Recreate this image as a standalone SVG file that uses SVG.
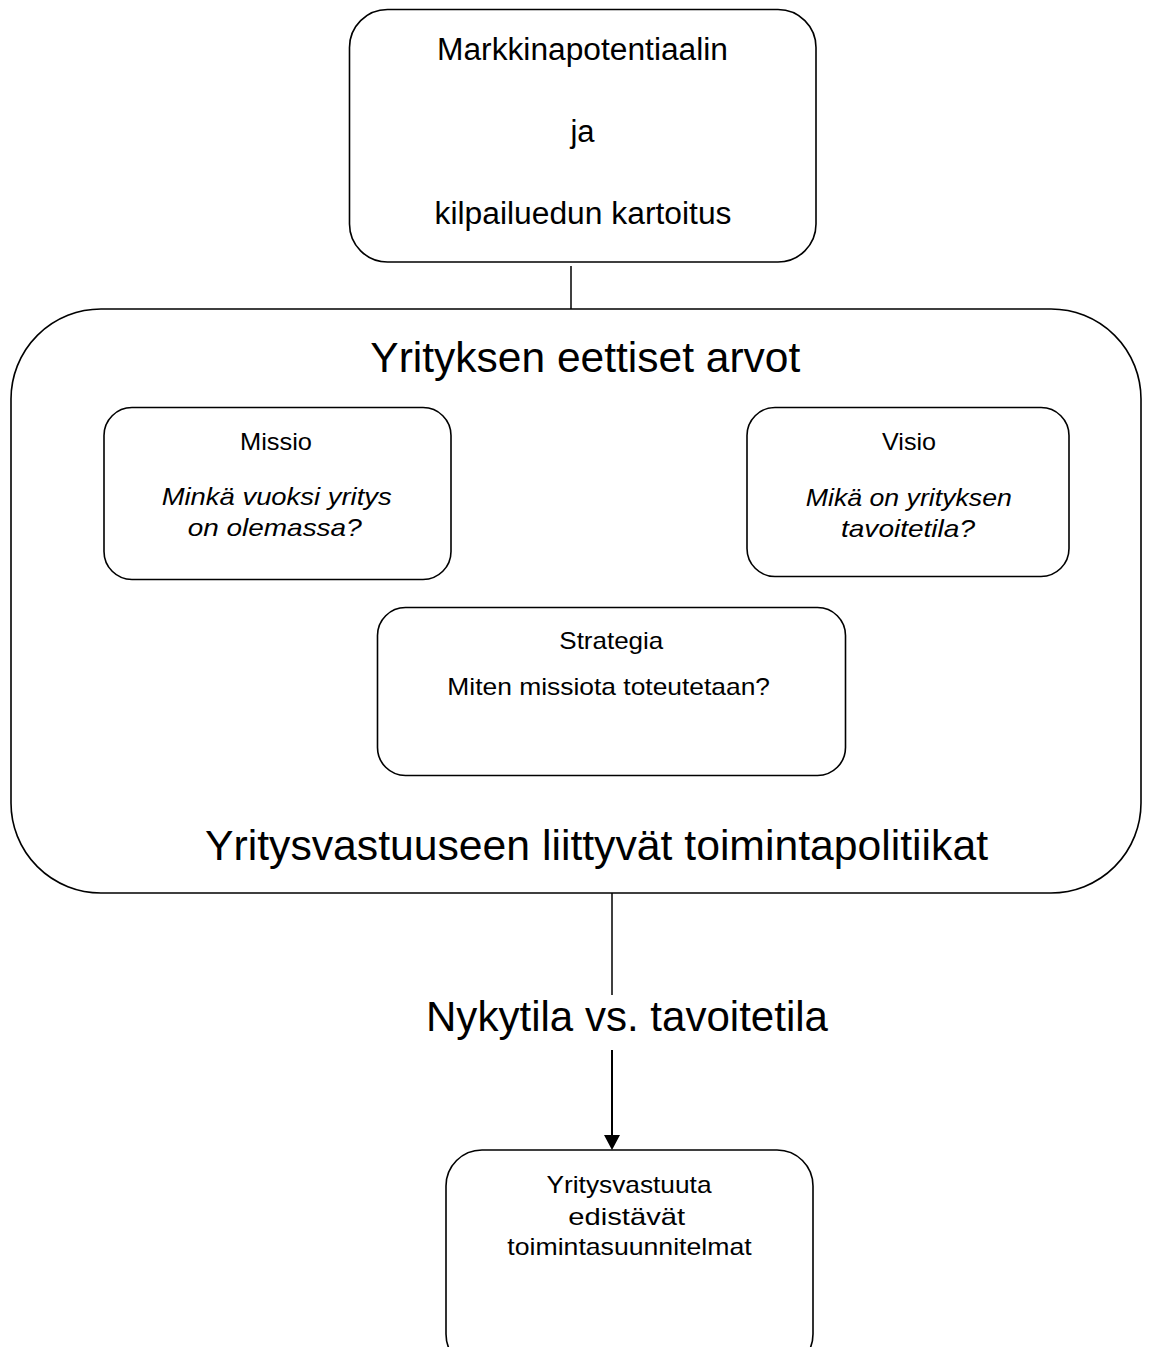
<svg xmlns="http://www.w3.org/2000/svg" width="1149" height="1347" viewBox="0 0 1149 1347">
  <defs>
    <style>
      .box { fill: #ffffff; stroke: #000000; stroke-width: 1.6; }
      .wire { fill: none; stroke: #000000; stroke-width: 1.5; }
      .arrow { fill: none; stroke: #000000; stroke-width: 2; }
      text { font-family: "Liberation Sans", Arial, sans-serif; fill: #000000; text-anchor: middle; }
      .big { font-size: 42px; }
      .mid { font-size: 31px; }
      .small { font-size: 24px; }
      .it { font-style: italic; }
    </style>
  </defs>
  <rect width="1149" height="1347" fill="#ffffff"/>

  <!-- connectors -->
  <g id="connectors">
    <line class="wire" x1="571" y1="266" x2="571" y2="310"/>
    <line class="wire" x1="612" y1="893" x2="612" y2="995"/>
    <line class="arrow" x1="612" y1="1050" x2="612" y2="1136"/>
    <path d="M604,1135 L620,1135 L612,1150 Z" fill="#000000"/>
  </g>

  <!-- market analysis -->
  <g id="node-market">
    <rect class="box" x="349.5" y="9.5" width="466.5" height="252.5" rx="38" ry="38"/>
    <text class="mid" x="582.5" y="60" textLength="291" lengthAdjust="spacingAndGlyphs">Markkinapotentiaalin</text>
    <text class="mid" x="582.5" y="142">ja</text>
    <text class="mid" x="583" y="224" textLength="297" lengthAdjust="spacingAndGlyphs">kilpailuedun kartoitus</text>
  </g>

  <!-- ethical values frame -->
  <g id="node-values">
    <rect class="box" x="11" y="309" width="1130" height="584" rx="90" ry="90"/>
    <text class="big" x="585.3" y="372" textLength="430" lengthAdjust="spacingAndGlyphs">Yrityksen eettiset arvot</text>
    <text class="big" x="596.5" y="860" textLength="783" lengthAdjust="spacingAndGlyphs">Yritysvastuuseen liittyvät toimintapolitiikat</text>
  </g>

  <!-- mission -->
  <g id="node-missio">
    <rect class="box" x="104" y="407.5" width="347" height="172" rx="28" ry="28"/>
    <text class="small" x="276" y="450" textLength="72" lengthAdjust="spacingAndGlyphs">Missio</text>
    <text class="small it" x="276.7" y="505" textLength="230" lengthAdjust="spacingAndGlyphs">Minkä vuoksi yritys</text>
    <text class="small it" x="274.7" y="536" textLength="174" lengthAdjust="spacingAndGlyphs">on olemassa?</text>
  </g>

  <!-- vision -->
  <g id="node-visio">
    <rect class="box" x="747" y="407.5" width="322" height="169" rx="28" ry="28"/>
    <text class="small" x="909" y="450" textLength="54" lengthAdjust="spacingAndGlyphs">Visio</text>
    <text class="small it" x="908.8" y="506" textLength="206" lengthAdjust="spacingAndGlyphs">Mikä on yrityksen</text>
    <text class="small it" x="908" y="537" textLength="134" lengthAdjust="spacingAndGlyphs">tavoitetila?</text>
  </g>

  <!-- strategy -->
  <g id="node-strategia">
    <rect class="box" x="377.5" y="607.5" width="468" height="168" rx="28" ry="28"/>
    <text class="small" x="611.3" y="649" textLength="104" lengthAdjust="spacingAndGlyphs">Strategia</text>
    <text class="small" x="608.7" y="695" textLength="322.7" lengthAdjust="spacingAndGlyphs">Miten missiota toteutetaan?</text>
  </g>

  <!-- current vs target state -->
  <g id="node-gap">
    <text class="big" x="627" y="1031" textLength="402" lengthAdjust="spacingAndGlyphs">Nykytila vs. tavoitetila</text>
  </g>

  <!-- action plans -->
  <g id="node-plans">
    <rect class="box" x="446" y="1150" width="367" height="220" rx="36" ry="36"/>
    <text class="small" x="629" y="1193" textLength="165" lengthAdjust="spacingAndGlyphs">Yritysvastuuta</text>
    <text class="small" x="626.7" y="1225" textLength="116.7" lengthAdjust="spacingAndGlyphs">edistävät</text>
    <text class="small" x="629.5" y="1255" textLength="244.3" lengthAdjust="spacingAndGlyphs">toimintasuunnitelmat</text>
  </g>
</svg>
